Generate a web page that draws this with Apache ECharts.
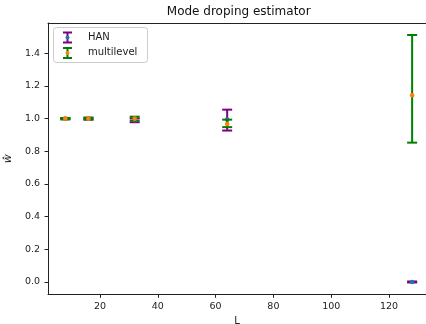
<!DOCTYPE html>
<html>
<head>
<meta charset="utf-8">
<script src="https://cdn.jsdelivr.net/npm/echarts@6/dist/echarts.min.js"></script>
<style>
  html, body { margin: 0; padding: 0; background: #fff; }
  #chart { width: 426px; height: 324px; }
</style>
</head>
<body>
<div id="chart"></div>
<script>
// sequence length L on the x axis
var L = [8, 16, 32, 64, 128];

// HAN estimator: point estimate and error bar ends
var hanMean = [1.0, 1.0, 0.99, 0.995, 0.0];
var hanLow = [0.996, 0.994, 0.978, 0.927, -0.003];
var hanHigh = [1.004, 1.006, 1.002, 1.055, 0.003];

// multilevel estimator
var mlMean = [1.0, 1.0, 1.0, 0.967, 1.143];
var mlLow = [0.996, 0.995, 0.988, 0.948, 0.853];
var mlHigh = [1.004, 1.005, 1.012, 0.994, 1.512];

var xTicks = [20, 40, 60, 80, 100, 120];
var yTicks = [0.0, 0.2, 0.4, 0.6, 0.8, 1.0, 1.2, 1.4];

var FONT = 'DejaVu Sans';
var TXT = '#222';

function rows(mean, low, high) {
    return L.map(function (l, i) { return [l, mean[i], low[i], high[i]]; });
}

function errorBar(barColor, dotColor) {
    return function (params, api) {
        var x = api.value(0);
        var top = api.coord([x, api.value(3)]);
        var bot = api.coord([x, api.value(2)]);
        var mid = api.coord([x, api.value(1)]);
        var cap = 5;
        var st = { stroke: barColor, lineWidth: 2 };
        return {
            type: 'group',
            children: [
                { type: 'line', shape: { x1: top[0], y1: top[1], x2: bot[0], y2: bot[1] }, style: st },
                { type: 'line', shape: { x1: top[0] - cap, y1: top[1], x2: top[0] + cap, y2: top[1] }, style: st },
                { type: 'line', shape: { x1: bot[0] - cap, y1: bot[1], x2: bot[0] + cap, y2: bot[1] }, style: st },
                { type: 'circle', shape: { cx: mid[0], cy: mid[1], r: 2.3 }, style: { fill: dotColor } }
            ]
        };
    };
}

// legend icon: small errorbar glyph
function legendIcon(x, y, barColor, dotColor) {
    var st = { stroke: barColor, lineWidth: 2 };
    return [
        { type: 'line', z: 21, shape: { x1: x, y1: y - 5, x2: x, y2: y + 5 }, style: st },
        { type: 'line', z: 21, shape: { x1: x - 4.5, y1: y - 5, x2: x + 4.5, y2: y - 5 }, style: st },
        { type: 'line', z: 21, shape: { x1: x - 4.5, y1: y + 5, x2: x + 4.5, y2: y + 5 }, style: st },
        { type: 'circle', z: 22, shape: { cx: x, cy: y, r: 2 }, style: { fill: dotColor } }
    ];
}

var chart = echarts.init(document.getElementById('chart'), null, { renderer: 'canvas' });

// the right spine sits just past the picture edge, so the axis stops at 132.8
var option = {
    animation: false,
    backgroundColor: '#fff',
    textStyle: { fontFamily: FONT },
    grid: {
        left: 48, top: 23, right: 0, bottom: 29.7,
        containLabel: false,
        outerBoundsMode: 'none'
    },
    xAxis: [{
        type: 'value',
        min: 2, max: 132.8,
        name: 'L',
        nameLocation: 'middle',
        nameGap: 19,
        nameTextStyle: { color: TXT, fontSize: 10, fontFamily: FONT },
        axisLine: { show: true, onZero: false, lineStyle: { color: '#222', width: 1 } },
        axisTick: { show: true, length: 3.5, customValues: xTicks, lineStyle: { color: '#222' } },
        axisLabel: { customValues: xTicks, color: TXT, fontSize: 9.5, fontFamily: FONT, margin: 7 },
        splitLine: { show: false }
    }, {
        // top spine only
        type: 'value',
        position: 'top',
        min: 2, max: 132.8,
        axisLine: { show: true, onZero: false, lineStyle: { color: '#222', width: 1 } },
        axisTick: { show: false },
        axisLabel: { show: false },
        splitLine: { show: false }
    }],
    yAxis: {
        type: 'value',
        min: -0.0755, max: 1.5855,
        name: 'ŵ',
        nameLocation: 'middle',
        nameRotate: 90,
        nameGap: 22,
        nameTextStyle: { color: TXT, fontSize: 11, fontStyle: 'italic', fontFamily: FONT },
        axisLine: { show: true, onZero: false, lineStyle: { color: '#222', width: 1 } },
        axisTick: { show: true, length: 3.5, customValues: yTicks, lineStyle: { color: '#222' } },
        axisLabel: {
            customValues: yTicks, color: TXT, fontSize: 9.5, fontFamily: FONT, margin: 8,
            formatter: function (v) { return v.toFixed(1); }
        },
        splitLine: { show: false }
    },
    graphic: [
        { type: 'text', x: 238.7, y: 12, z: 10, style: { text: 'Mode droping estimator', fill: '#111', font: '12px "DejaVu Sans"', align: 'center', verticalAlign: 'middle' } },
        { type: 'rect', z: 20, shape: { x: 53.5, y: 27.5, width: 94, height: 35, r: 3 }, style: { fill: 'rgba(255,255,255,0.8)', stroke: '#ccc', lineWidth: 1 } },
        { type: 'text', x: 88, y: 37.5, z: 21, style: { text: 'HAN', fill: TXT, font: '10px "DejaVu Sans"', verticalAlign: 'middle' } },
        { type: 'text', x: 88, y: 52.5, z: 21, style: { text: 'multilevel', fill: TXT, font: '10px "DejaVu Sans"', verticalAlign: 'middle' } }
    ].concat(legendIcon(67.5, 37.5, 'purple', '#1f77b4'), legendIcon(67.5, 53, 'green', '#ff7f0e')),
    series: [
        {
            name: 'HAN',
            type: 'custom',
            renderItem: errorBar('purple', '#1f77b4'),
            data: rows(hanMean, hanLow, hanHigh),
            encode: { x: 0, y: [1, 2, 3] },
            z: 2
        },
        {
            name: 'multilevel',
            type: 'custom',
            renderItem: errorBar('green', '#ff7f0e'),
            data: rows(mlMean, mlLow, mlHigh),
            encode: { x: 0, y: [1, 2, 3] },
            z: 3
        }
    ]
};

chart.setOption(option);
</script>
</body>
</html>
